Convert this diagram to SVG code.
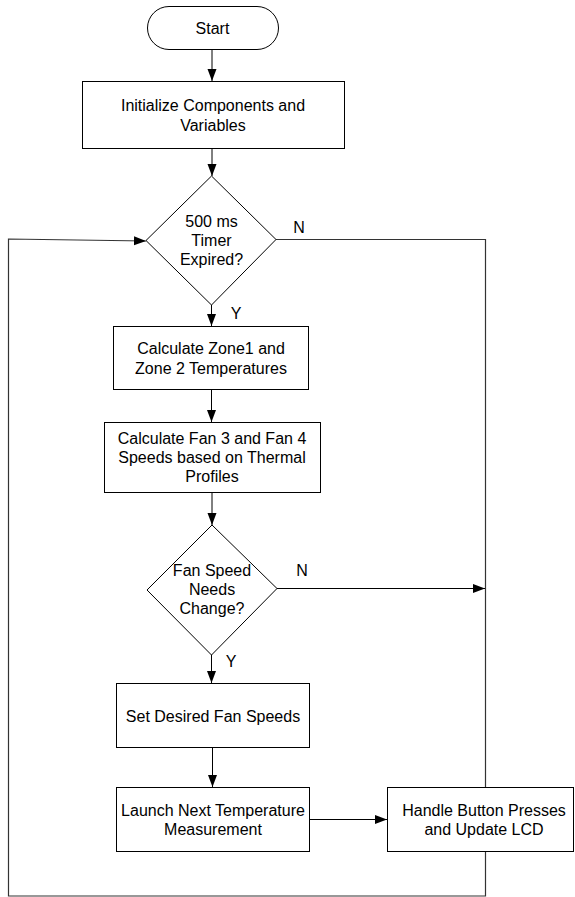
<svg xmlns="http://www.w3.org/2000/svg" width="575" height="897" viewBox="0 0 575 897">
<defs>
<marker id="arr" markerUnits="userSpaceOnUse" markerWidth="12" markerHeight="10" refX="12" refY="5" orient="auto">
<path d="M0,0.5 L12,5 L0,9.5 z" fill="#000"/>
</marker>
<style>
.box{fill:#fff;stroke:#000;stroke-width:1}
.ln{fill:none;stroke:#000;stroke-width:1}
.lp{fill:none;stroke:#333;stroke-width:1.2}
text{font-family:"Liberation Sans",Arial,sans-serif;font-size:16px;fill:#000;text-anchor:middle}
</style>
</defs>
<rect width="575" height="897" fill="#fff"/>
<g id="connectors">
<path class="ln" d="M212,50 V81" marker-end="url(#arr)"/>
<path class="ln" d="M212,149 V176" marker-end="url(#arr)"/>
<path class="lp" d="M276,239.5 H485.5 V787"/>
<path class="ln" d="M211.5,305 V326" marker-end="url(#arr)"/>
<path class="ln" d="M211.5,390 V422" marker-end="url(#arr)"/>
<path class="ln" d="M212,493 V525" marker-end="url(#arr)"/>
<path class="ln" d="M277,588.5 H485" marker-end="url(#arr)"/>
<path class="ln" d="M211.5,655 V683" marker-end="url(#arr)"/>
<path class="ln" d="M212.5,748 V787" marker-end="url(#arr)"/>
<path class="ln" d="M310,819.5 H387" marker-end="url(#arr)"/>
<path class="lp" d="M485.5,851 V896 H8.5 V239 L146,241" marker-end="url(#arr)"/>
<text x="299" y="233">N</text>
<text x="236" y="319">Y</text>
<text x="302" y="576">N</text>
<text x="231" y="667">Y</text>
</g>
<g id="start">
<rect class="box" x="147.5" y="6.5" width="131" height="43" rx="21.5"/>
<text x="212.5" y="33.5">Start</text>
</g>
<g id="init">
<rect class="box" x="82.5" y="81.5" width="262" height="67"/>
<text x="213" y="111">Initialize Components and</text>
<text x="213" y="131">Variables</text>
</g>
<g id="timer">
<polygon class="box" points="211.5,176 276,239.5 211.5,305 146,240.5"/>
<text x="211.5" y="227">500 ms</text>
<text x="211.5" y="246">Timer</text>
<text x="211.5" y="265">Expired?</text>
</g>
<g id="zones">
<rect class="box" x="113.5" y="326.5" width="195" height="63"/>
<text x="211" y="354">Calculate Zone1 and</text>
<text x="211" y="374">Zone 2 Temperatures</text>
</g>
<g id="fanspeeds">
<rect class="box" x="104.5" y="422.5" width="216" height="70"/>
<text x="212" y="443.5">Calculate Fan 3 and Fan 4</text>
<text x="212" y="462.5">Speeds based on Thermal</text>
<text x="212" y="481.5">Profiles</text>
</g>
<g id="needchange">
<polygon class="box" points="212,525 277,588.5 211.5,655 147,590"/>
<text x="212" y="576">Fan Speed</text>
<text x="212" y="595">Needs</text>
<text x="212" y="614">Change?</text>
</g>
<g id="setspeeds">
<rect class="box" x="116.5" y="683.5" width="193" height="64"/>
<text x="213" y="722">Set Desired Fan Speeds</text>
</g>
<g id="launch">
<rect class="box" x="116.5" y="787.5" width="193" height="64"/>
<text x="213" y="816">Launch Next Temperature</text>
<text x="213" y="835">Measurement</text>
</g>
<g id="handle">
<rect class="box" x="387.5" y="787.5" width="186" height="64"/>
<text x="484" y="816">Handle Button Presses</text>
<text x="484" y="835">and Update LCD</text>
</g>
</svg>
